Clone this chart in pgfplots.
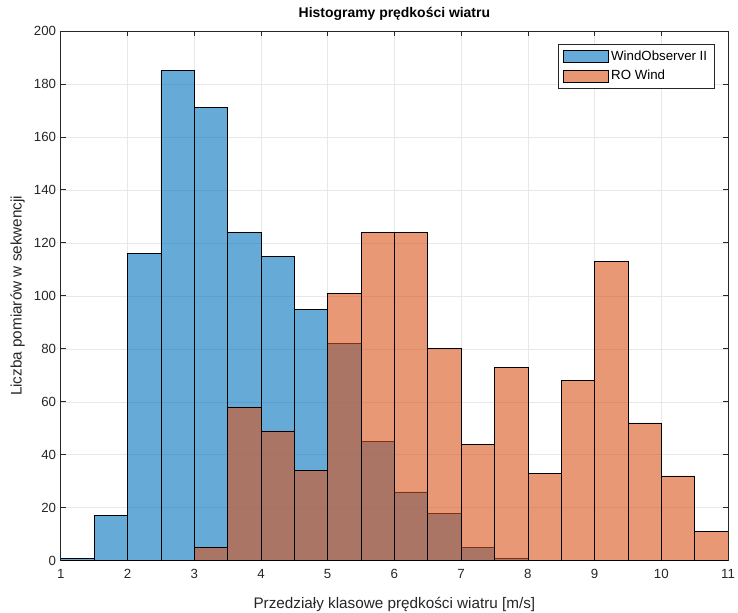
\documentclass[border=0pt]{standalone}
\usepackage{fontspec}
\setmainfont{Liberation Sans}
\usepackage{pgfplots}
\pgfplotsset{compat=1.18}
\definecolor{mblue}{RGB}{0,114,189}
\definecolor{morange}{RGB}{217,83,25}
\definecolor{axgray}{RGB}{38,38,38}
\begin{document}
\begin{tikzpicture}
\begin{axis}[
  scale only axis,
  width=502.5pt, height=399pt,
  xmin=1, xmax=11, ymin=0, ymax=200,
  xtick={1,2,...,11}, ytick={0,20,...,200},
  tick align=inside, major tick length=4pt,
  grid=major, grid style={gray!18, line width=0.4pt},
  axis line style={axgray, line width=0.5pt},
  tick style={axgray, line width=0.5pt},
  tick label style={font=\fontsize{10}{12}\selectfont, text=axgray},
  xticklabel style={yshift=-3pt},
  /pgf/number format/assume math mode=true,
  title={\bfseries Histogramy prędkości wiatru},
  title style={font=\fontsize{10.5}{12}\selectfont, yshift=-2pt},
  xlabel={Przedziały klasowe prędkości wiatru [m/s]},
  ylabel={Liczba pomiarów w sekwencji},
  xlabel style={yshift=-7pt},
  label style={font=\fontsize{11.5}{13}\selectfont, text=axgray},
  legend style={at={(0.979,0.976)}, anchor=north east, draw=axgray,
    font=\fontsize{10}{12}\selectfont, row sep=2pt, inner sep=3pt,
    cells={anchor=west}},
  legend image code/.code={\draw[#1] (0cm,-0.16cm) rectangle (1.2cm,0.16cm);},
]
\addplot[ybar interval, fill=mblue, fill opacity=0.6, draw=black, line width=0.5pt]
  coordinates {
  (1,1) (1.5,17) (2,116) (2.5,185) (3,171) (3.5,124) (4,115) (4.5,95)
  (5,82) (5.5,45) (6,26) (6.5,18) (7,5) (7.5,1) (8,1)};
\addlegendentry{WindObserver II}
\addplot[ybar interval, fill=morange, fill opacity=0.6, draw=black, line width=0.5pt]
  coordinates {
  (3,5) (3.5,58) (4,49) (4.5,34) (5,101) (5.5,124) (6,124) (6.5,80)
  (7,44) (7.5,73) (8,33) (8.5,68) (9,113) (9.5,52) (10,32) (10.5,11) (11,11)};
\addlegendentry{RO Wind}
\end{axis}
\pgfresetboundingbox
\path ([shift={(-45.75pt,-39pt)}]current axis.south west) rectangle
      ([shift={(7.5pt,23.25pt)}]current axis.north east);
\end{tikzpicture}
\end{document}
